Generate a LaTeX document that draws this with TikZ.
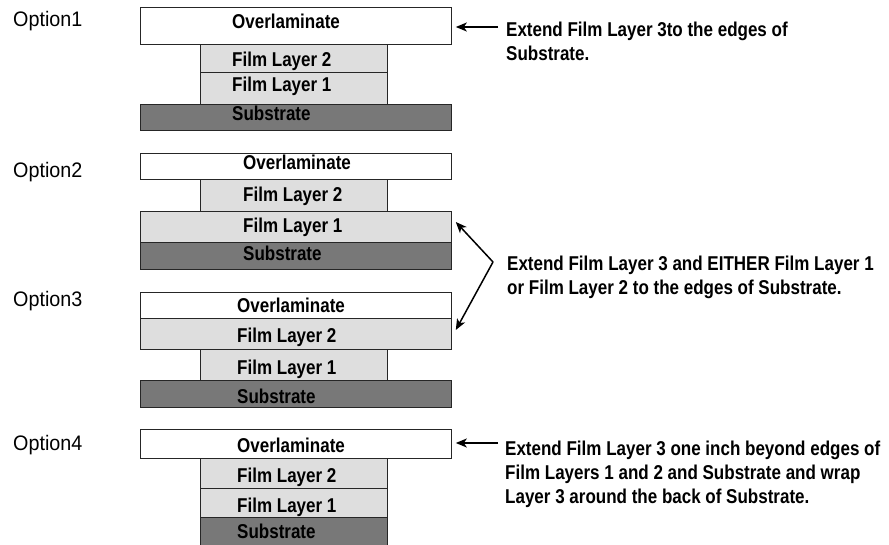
\documentclass[tikz,border=0pt]{standalone}
\usepackage{fontspec}
\setmainfont{Liberation Sans}
\newfontfamily\condfont{Liberation Sans}[FakeStretch=0.85]
\newfontfamily\labfont{Liberation Sans}[FakeStretch=0.94]
\usetikzlibrary{arrows.meta,calc}
\definecolor{filmgray}{HTML}{DEDEDE}
\definecolor{subgray}{HTML}{787878}
\begin{document}
\begin{tikzpicture}[x=1pt,y=-1pt,
  layer/.style={draw=black!85, line width=0.8pt, inner sep=0pt, anchor=north west},
  wide/.style={layer, minimum width=311pt},
  narrow/.style={layer, minimum width=187pt},
  over/.style={fill=white},
  film/.style={fill=filmgray},
  subs/.style={fill=subgray},
  laytext/.style={anchor=base west, inner sep=0pt, font=\condfont\bfseries\fontsize{20}{24}\selectfont},
  optlabel/.style={anchor=base west, inner sep=0pt, font=\labfont\fontsize{21}{24}\selectfont},
  note/.style={anchor=north west, inner sep=0pt, align=left, font=\condfont\bfseries\fontsize{20}{24.3}\selectfont},
  arr/.style={-{Stealth[length=11pt,width=9pt,inset=3pt]}, line width=1.5pt}
]
\useasboundingbox (0,0) rectangle (889,545);
% ---------- Option 1
\node[optlabel] (l1) at (13,27) {Option1};
\node[wide,over,minimum height=37pt] (o1ov) at (140,7) {};
\node[narrow,film,minimum height=28pt] (o1f2) at (200,44) {};
\node[narrow,film,minimum height=32pt] (o1f1) at (200,72) {};
\node[wide,subs,minimum height=26pt] (o1sub) at (140,104) {};
\node[laytext] (t1ov) at (232,29) {Overlaminate};
\node[laytext] (t1f2) at (232,67) {Film Layer 2};
\node[laytext] (t1f1) at (232,92) {Film Layer 1};
\node[laytext] (t1sub) at (232,121) {Substrate};
% ---------- Option 2
\node[optlabel] (l2) at (13,178) {Option2};
\node[wide,over,minimum height=26pt] (o2ov) at (140,153) {};
\node[narrow,film,minimum height=32pt] (o2f2) at (200,179) {};
\node[wide,film,minimum height=31pt] (o2f1) at (140,211) {};
\node[wide,subs,minimum height=27pt] (o2sub) at (140,242) {};
\node[laytext] (t2ov) at (243,170) {Overlaminate};
\node[laytext] (t2f2) at (243,202) {Film Layer 2};
\node[laytext] (t2f1) at (243,233) {Film Layer 1};
\node[laytext] (t2sub) at (243,261) {Substrate};
% ---------- Option 3
\node[optlabel] (l3) at (13,307) {Option3};
\node[wide,over,minimum height=26pt] (o3ov) at (140,292) {};
\node[wide,film,minimum height=31pt] (o3f2) at (140,318) {};
\node[narrow,film,minimum height=31pt] (o3f1) at (200,349) {};
\node[wide,subs,minimum height=27pt] (o3sub) at (140,380) {};
\node[laytext] (t3ov) at (237,313) {Overlaminate};
\node[laytext] (t3f2) at (237,343) {Film Layer 2};
\node[laytext] (t3f1) at (237,374) {Film Layer 1};
\node[laytext] (t3sub) at (237,403) {Substrate};
% ---------- Option 4
\node[optlabel] (l4) at (13,450) {Option4};
\node[wide,over,minimum height=29pt] (o4ov) at (140,429) {};
\node[narrow,film,minimum height=30pt] (o4f2) at (200,458) {};
\node[narrow,film,minimum height=29pt] (o4f1) at (200,488) {};
\node[narrow,subs,minimum height=30pt] (o4sub) at (200,517) {};
\node[laytext] (t4ov) at (237,452) {Overlaminate};
\node[laytext] (t4f2) at (237,482) {Film Layer 2};
\node[laytext] (t4f1) at (237,512) {Film Layer 1};
\node[laytext] (t4sub) at (237,538) {Substrate};
% ---------- Notes
\node[note] (n1) at (506,21.4) {Extend Film Layer 3to the edges of\\Substrate.};
\node[note] (n23) at (507,255.4) {Extend Film Layer 3 and EITHER Film Layer 1\\or Film Layer 2 to the edges of Substrate.};
\node[note] (n4) at (505,440.4) {Extend Film Layer 3 one inch beyond edges of\\Film Layers 1 and 2 and Substrate and wrap\\Layer 3 around the back of Substrate.};
% ---------- Arrows
\coordinate (s1) at ($(n1.north west)+(-8,5.6)$);
\draw[arr] (s1) -- ($(s1 -| o1ov.east)+(4,0)$);
\coordinate (v23) at ($(n23.north west)+(-14,6.6)$);
\coordinate (tip2) at ($(o2f1.north east)+(4,11)$);
\coordinate (tip3) at ($(o3f2.north east)+(4,12)$);
\draw[arr] (v23) -- (tip2);
\draw[arr] (v23) -- (tip3);
\coordinate (s4) at ($(n4.north west)+(-7,2.6)$);
\draw[arr] (s4) -- ($(s4 -| o4ov.east)+(4,0)$);
\end{tikzpicture}
\end{document}
